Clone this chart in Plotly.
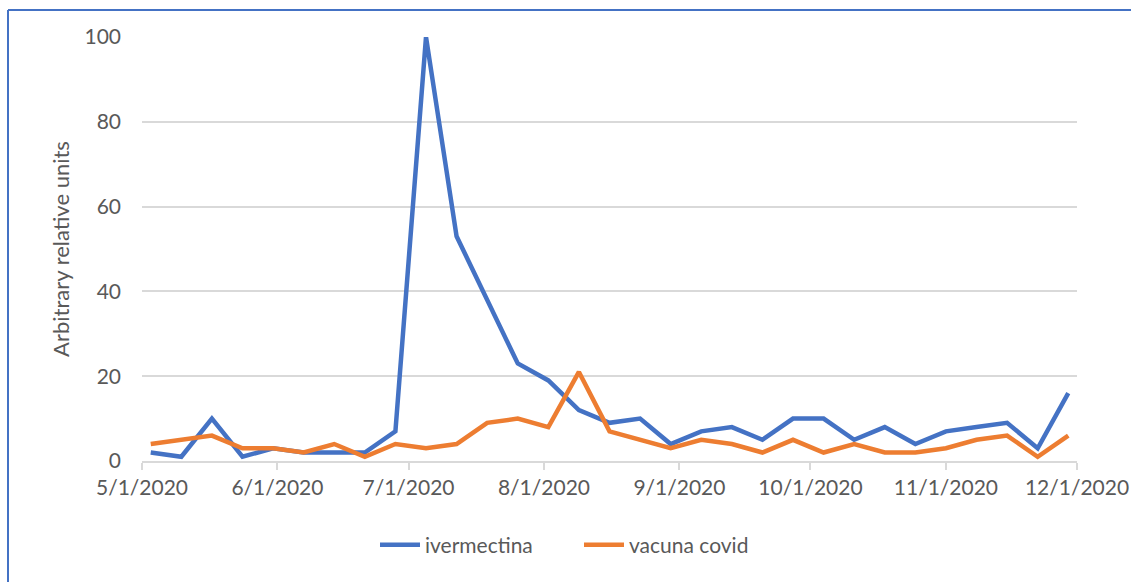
import plotly.graph_objects as go

# Weekly search interest (Sunday-start weeks)
weeks = [
    "2020-05-03", "2020-05-10", "2020-05-17", "2020-05-24", "2020-05-31",
    "2020-06-07", "2020-06-14", "2020-06-21", "2020-06-28", "2020-07-05",
    "2020-07-12", "2020-07-19", "2020-07-26", "2020-08-02", "2020-08-09",
    "2020-08-16", "2020-08-23", "2020-08-30", "2020-09-06", "2020-09-13",
    "2020-09-20", "2020-09-27", "2020-10-04", "2020-10-11", "2020-10-18",
    "2020-10-25", "2020-11-01", "2020-11-08", "2020-11-15", "2020-11-22",
    "2020-11-29",
]
ivermectina = [2, 1, 10, 1, 3, 2, 2, 2, 7, 100, 53, 38, 23, 19, 12, 9, 10, 4,
               7, 8, 5, 10, 10, 5, 8, 4, 7, 8, 9, 3, 16]
vacuna_covid = [4, 5, 6, 3, 3, 2, 4, 1, 4, 3, 4, 9, 10, 8, 21, 7, 5, 3,
                5, 4, 2, 5, 2, 4, 2, 2, 3, 5, 6, 1, 6]

month_ticks = ["2020-05-01", "2020-06-01", "2020-07-01", "2020-08-01",
               "2020-09-01", "2020-10-01", "2020-11-01", "2020-12-01"]
month_labels = ["5/1/2020", "6/1/2020", "7/1/2020", "8/1/2020",
                "9/1/2020", "10/1/2020", "11/1/2020", "12/1/2020"]
y_ticks = [0, 20, 40, 60, 80, 100]

FONT = "Lato, 'Open Sans', sans-serif"
TXT = "#595959"
GRID = "#d9d9d9"

fig = go.Figure()
fig.add_trace(go.Scatter(x=weeks, y=ivermectina, mode="lines", name="ivermectina",
                         line=dict(color="#4472C4", width=4.5)))
fig.add_trace(go.Scatter(x=weeks, y=vacuna_covid, mode="lines", name="vacuna covid",
                         line=dict(color="#ED7D31", width=4.5)))

L, R, T, B = 142, 54, 37, 121
W, H = 1131, 582
pw, ph = W - L - R, H - T - B

def px_x(p):
    return (p - L) / pw

def px_y(p):
    return (H - B - p) / ph

fig.update_layout(
    width=W, height=H,
    margin=dict(l=L, r=R, t=T, b=B, autoexpand=False),
    paper_bgcolor="white", plot_bgcolor="white",
    font=dict(family=FONT, color=TXT, size=21),
    showlegend=True,
    legend=dict(orientation="h", x=px_x(375), xanchor="left", y=px_y(545), yanchor="middle",
                font=dict(size=21, color=TXT), itemwidth=40, tracegroupgap=0,
                entrywidth=149),
    xaxis=dict(
        type="date", range=["2020-05-01", "2020-12-01"], automargin=False,
        tickmode="array", tickvals=month_ticks, ticktext=month_labels,
        showgrid=False, showline=True, linecolor=GRID, linewidth=2,
        ticks="outside", ticklen=7, tickcolor=GRID, tickwidth=2,
        tickfont=dict(size=21, color=TXT), zeroline=False,
    ),
    yaxis=dict(
        range=[0, 100], tickmode="array", tickvals=y_ticks, automargin=False,
        showgrid=True, gridcolor=GRID, gridwidth=1.5, zeroline=False,
        showline=False, ticks="", ticklabelstandoff=20,
        tickfont=dict(size=21, color=TXT),
        title=dict(text="Arbitrary relative units", font=dict(size=22, color=TXT), standoff=8),
    ),
    shapes=[
        dict(type="line", xref="paper", yref="paper",
             x0=px_x(8), x1=px_x(1131), y0=px_y(10), y1=px_y(10),
             line=dict(color="#4472C4", width=2)),
        dict(type="line", xref="paper", yref="paper",
             x0=px_x(8), x1=px_x(8), y0=px_y(10), y1=px_y(582),
             line=dict(color="#4472C4", width=2)),
    ],
)

fig.write_html("out.html")
